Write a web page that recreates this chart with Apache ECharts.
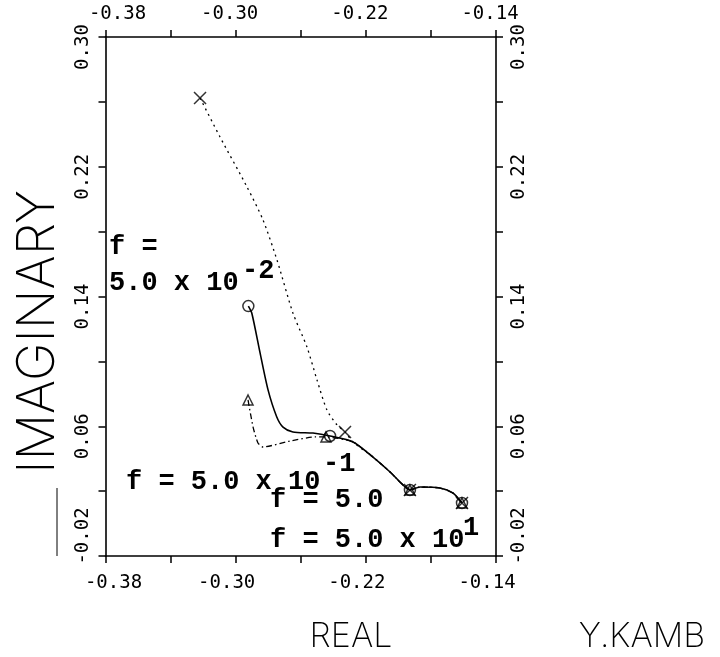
<!DOCTYPE html>
<html><head><meta charset="utf-8">
<script src="https://cdn.jsdelivr.net/npm/echarts@6/dist/echarts.min.js"></script>
<style>html,body{margin:0;padding:0;background:#fff}#c{width:720px;height:657px}</style>
</head><body><div id="c"></div>
<script>
// ---- tick labels ----
const xTickValues = [-0.38, -0.30, -0.22, -0.14];
const xTickLabels = ['-0.38', '-0.30', '-0.22', '-0.14'];
const yTickValues = [-0.02, 0.06, 0.14, 0.22, 0.30];
const yTickLabels = ['-0.02', '0.06', '0.14', '0.22', '0.30'];

// ---- curves (real, imaginary) ----
const solidCurve = [
  [-0.2922, 0.1341], [-0.2901, 0.1298], [-0.2850, 0.1052], [-0.2801, 0.0824],
  [-0.2748, 0.0659], [-0.2709, 0.0595], [-0.2648, 0.0565], [-0.2525, 0.0558],
  [-0.2420, 0.0540], [-0.2279, 0.0503], [-0.2156, 0.0410], [-0.2051, 0.0318],
  [-0.1990, 0.0256], [-0.1929, 0.0207], [-0.1867, 0.0225], [-0.1744, 0.0219],
  [-0.1664, 0.0188], [-0.1609, 0.0127]
];
const dottedCurve = [
  [-0.3219, 0.2624], [-0.3096, 0.2383], [-0.2930, 0.2075], [-0.2832, 0.1872],
  [-0.2746, 0.1625], [-0.2648, 0.1298], [-0.2562, 0.1089], [-0.2500, 0.0885],
  [-0.2439, 0.0700], [-0.2377, 0.0608], [-0.2328, 0.0565], [-0.2279, 0.0503],
  [-0.2156, 0.0410], [-0.2051, 0.0318], [-0.1990, 0.0256], [-0.1929, 0.0207],
  [-0.1867, 0.0225], [-0.1744, 0.0219], [-0.1664, 0.0188], [-0.1609, 0.0127]
];
const dashDotCurve = [
  [-0.2924, 0.0762], [-0.2893, 0.0595], [-0.2863, 0.0497], [-0.2832, 0.0472],
  [-0.2666, 0.0509], [-0.2512, 0.0534], [-0.2445, 0.0534], [-0.2279, 0.0503],
  [-0.2156, 0.0410], [-0.2051, 0.0318], [-0.1990, 0.0256], [-0.1929, 0.0207],
  [-0.1867, 0.0225], [-0.1744, 0.0219], [-0.1664, 0.0188], [-0.1609, 0.0127]
];
// ---- markers at f = 5.0e-2, 5.0e-1, 5.0, 5.0e1 ----
const circleMarkers = [[-0.2922, 0.1341], [-0.2420, 0.0540], [-0.1929, 0.0207], [-0.1609, 0.0127]];
const crossMarkers = [[-0.3219, 0.2624], [-0.2328, 0.0565], [-0.1929, 0.0207], [-0.1609, 0.0127]];
const triangleMarkers = [[-0.2924, 0.0762], [-0.2445, 0.0534], [-0.1929, 0.0207], [-0.1609, 0.0127]];

const chart = echarts.init(document.getElementById('c'), null, {renderer: 'canvas'});
const BLACK = '#000';
const tickFont = {color: BLACK, fontSize: 19, fontFamily: 'DejaVu Sans Mono', fontWeight: 'normal'};

function findIdx(vals, v) { return vals.findIndex(t => Math.abs(t - v) < 1e-6); }
function xFmt(v) { const i = findIdx(xTickValues, v); return i < 0 ? '' : (i === 0 ? '{f|' : '{o|') + xTickLabels[i] + '}'; }
function yFmt(v) { const i = findIdx(yTickValues, v); return i < 0 ? '' : (i === 0 ? '{f|' : '{o|') + yTickLabels[i] + '}'; }

function xAxis(pos) {
  const bottom = pos === 'bottom';
  return {
    type: 'value', position: pos, min: -0.38, max: -0.14, interval: 0.04,
    axisLine: {show: true, onZero: false, lineStyle: {color: BLACK, width: 1.6}},
    axisTick: {show: true, inside: false, length: 7, lineStyle: {color: BLACK, width: 1.5}},
    splitLine: {show: false},
    axisLabel: Object.assign({}, tickFont, {
      margin: bottom ? 18 : 13, formatter: xFmt, showMinLabel: true, showMaxLabel: true,
      rich: {
        f: Object.assign({}, tickFont, {padding: bottom ? [0, 0, 0, 16] : [0, 0, 0, 24]}),
        o: Object.assign({}, tickFont, {padding: bottom ? [0, 18, 0, 0] : [0, 12, 0, 0]})
      }
    })
  };
}
function yAxis(pos) {
  const left = pos === 'left';
  return {
    type: 'value', position: pos, min: -0.02, max: 0.30, interval: 0.04,
    axisLine: {show: true, onZero: false, lineStyle: {color: BLACK, width: 1.6}},
    axisTick: {show: true, inside: false, length: 7, lineStyle: {color: BLACK, width: 1.5}},
    splitLine: {show: false},
    axisLabel: Object.assign({}, tickFont, {
      rotate: 90, margin: left ? 13 : 14, formatter: yFmt, showMinLabel: true, showMaxLabel: true,
      rich: {
        f: Object.assign({}, tickFont, {padding: [0, 0, 0, 40]}),
        o: Object.assign({}, tickFont, {padding: [0, 20, 0, 0]})
      }
    })
  };
}

const crossPath = 'path://M0,0L10,10M10,0L0,10';
const mk = () => ({color: 'rgba(0,0,0,0)', borderColor: BLACK, borderWidth: 1.5});

const annFont = {fill: BLACK, fontSize: 27, fontFamily: 'Liberation Mono', fontWeight: 'bold', verticalAlign: 'middle', align: 'left'};
function ann(x, y, text) { return {type: 'text', x: x, y: y, silent: true, style: Object.assign({}, annFont, {text: text})}; }
const titleFont = {fill: BLACK, fontFamily: 'Inter', fontWeight: 200, align: 'center', verticalAlign: 'middle'};

chart.setOption({
  backgroundColor: '#fff',
  animation: false,
  grid: {left: 105.5, right: 224, top: 37, bottom: 101, containLabel: false},
  xAxis: [xAxis('bottom'), xAxis('top')],
  yAxis: [yAxis('left'), yAxis('right')],
  series: [
    {type: 'line', data: solidCurve, smooth: 0.25, symbol: 'none', lineStyle: {color: BLACK, width: 1.6}},
    {type: 'line', data: dottedCurve, smooth: 0.25, symbol: 'none', lineStyle: {color: BLACK, width: 1.3, type: [2, 4]}},
    {type: 'line', data: dashDotCurve, smooth: 0.2, symbol: 'none', lineStyle: {color: BLACK, width: 1.3, type: [6, 3, 1.5, 3]}},
    {type: 'scatter', data: circleMarkers, symbol: 'circle', symbolSize: 11, itemStyle: mk(), z: 5},
    {type: 'scatter', data: crossMarkers, symbol: crossPath, symbolSize: 12, itemStyle: mk(), z: 5},
    {type: 'scatter', data: triangleMarkers, symbol: 'triangle', symbolSize: 10, itemStyle: mk(), z: 5}
  ],
  graphic: [
    ann(109, 247, 'f ='),
    ann(109, 283, '5.0 x 10'),
    ann(242, 271, '-2'),
    ann(126, 482, 'f = 5.0 x 10'),
    ann(323, 464, '-1'),
    ann(270, 500, 'f = 5.0'),
    ann(270, 540, 'f = 5.0 x 10'),
    ann(463, 528, '1'),
    {type: 'text', x: 38, y: 332, rotation: Math.PI / 2, silent: true, style: Object.assign({}, titleFont, {text: 'IMAGINARY', fontSize: 52})},
    {type: 'text', x: 351, y: 637, silent: true, style: Object.assign({}, titleFont, {text: 'REAL', fontSize: 34})},
    {type: 'text', x: 642, y: 637, silent: true, style: Object.assign({}, titleFont, {text: 'Y.KAMB', fontSize: 34})},
    {type: 'line', silent: true, shape: {x1: 57, y1: 488, x2: 57, y2: 556}, style: {stroke: BLACK, lineWidth: 1}}
  ]
});
</script>
</body></html>
